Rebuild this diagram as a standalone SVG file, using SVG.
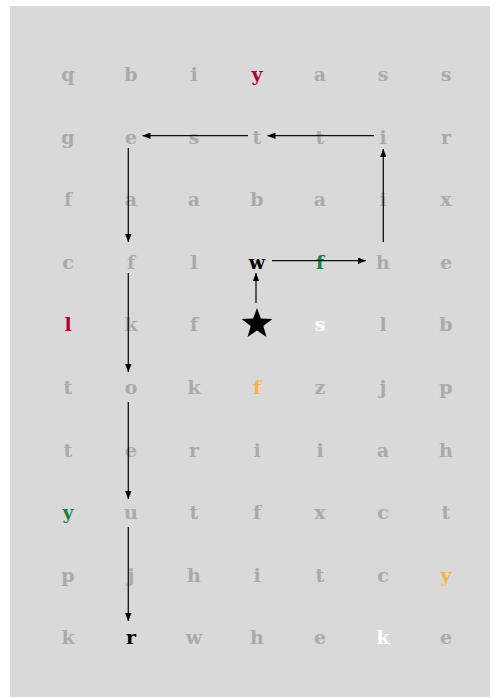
<svg xmlns="http://www.w3.org/2000/svg" width="498" height="698" viewBox="0 0 498 698">
<style>
text{font-family:"DejaVu Serif","Liberation Serif",serif;font-weight:bold;font-size:19px;text-anchor:middle}
.g{fill:#aaaaaa}.r{fill:#b0002e}.gr{fill:#17803a}.o{fill:#f7b24a}.w{fill:#ffffff}.k{fill:#000000}
.c line{stroke:#111;stroke-width:1.3;marker-end:url(#ah)}
</style>
<defs>
<marker id="ah" viewBox="0 0 10 8" refX="10" refY="4" markerWidth="8" markerHeight="6.4" markerUnits="userSpaceOnUse" orient="auto">
<path d="M0,0L10,4L0,8z" fill="#000"/>
</marker>
</defs>
<rect x="10" y="6" width="480" height="691" fill="#d9d9d9"/>
<g id="row0">
<text class="g" x="68" y="81">q</text><text class="g" x="131" y="81">b</text><text class="g" x="194" y="81">i</text><text class="r" x="257" y="81">y</text><text class="g" x="320" y="81">a</text><text class="g" x="383" y="81">s</text><text class="g" x="446" y="81">s</text>
</g>
<g id="row1">
<text class="g" x="68" y="143.6">g</text><text class="g" x="131" y="143.6">e</text><text class="g" x="194" y="143.6">s</text><text class="g" x="257" y="143.6">t</text><text class="g" x="320" y="143.6">t</text><text class="g" x="383" y="143.6">i</text><text class="g" x="446" y="143.6">r</text>
</g>
<g id="row2">
<text class="g" x="68" y="206.2">f</text><text class="g" x="131" y="206.2">a</text><text class="g" x="194" y="206.2">a</text><text class="g" x="257" y="206.2">b</text><text class="g" x="320" y="206.2">a</text><text class="g" x="383" y="206.2">i</text><text class="g" x="446" y="206.2">x</text>
</g>
<g id="row3">
<text class="g" x="68" y="268.8">c</text><text class="g" x="131" y="268.8">f</text><text class="g" x="194" y="268.8">l</text><text class="k" x="257" y="268.8">w</text><text class="gr" x="320" y="268.8">f</text><text class="g" x="383" y="268.8">h</text><text class="g" x="446" y="268.8">e</text>
</g>
<g id="row4">
<text class="r" x="68" y="331.4">l</text><text class="g" x="131" y="331.4">k</text><text class="g" x="194" y="331.4">f</text><text class="w" x="320" y="331.4">s</text><text class="g" x="383" y="331.4">l</text><text class="g" x="446" y="331.4">b</text>
</g>
<g id="star">
<path d="M257,308 L260.9,318.6 L272.4,319 L263.3,326 L266.5,337 L257,330.6 L247.5,337 L250.7,326 L241.6,319 L253.1,318.6 Z" fill="#000"/>
</g>
<g id="row5">
<text class="g" x="68" y="394">t</text><text class="g" x="131" y="394">o</text><text class="g" x="194" y="394">k</text><text class="o" x="257" y="394">f</text><text class="g" x="320" y="394">z</text><text class="g" x="383" y="394">j</text><text class="g" x="446" y="394">p</text>
</g>
<g id="row6">
<text class="g" x="68" y="456.6">t</text><text class="g" x="131" y="456.6">e</text><text class="g" x="194" y="456.6">r</text><text class="g" x="257" y="456.6">i</text><text class="g" x="320" y="456.6">i</text><text class="g" x="383" y="456.6">a</text><text class="g" x="446" y="456.6">h</text>
</g>
<g id="row7">
<text class="gr" x="68" y="519.2">y</text><text class="g" x="131" y="519.2">u</text><text class="g" x="194" y="519.2">t</text><text class="g" x="257" y="519.2">f</text><text class="g" x="320" y="519.2">x</text><text class="g" x="383" y="519.2">c</text><text class="g" x="446" y="519.2">t</text>
</g>
<g id="row8">
<text class="g" x="68" y="581.8">p</text><text class="g" x="131" y="581.8">j</text><text class="g" x="194" y="581.8">h</text><text class="g" x="257" y="581.8">i</text><text class="g" x="320" y="581.8">t</text><text class="g" x="383" y="581.8">c</text><text class="o" x="446" y="581.8">y</text>
</g>
<g id="row9">
<text class="g" x="68" y="644.4">k</text><text class="k" x="131" y="644.4">r</text><text class="g" x="194" y="644.4">w</text><text class="g" x="257" y="644.4">h</text><text class="g" x="320" y="644.4">e</text><text class="w" x="383" y="644.4">k</text><text class="g" x="446" y="644.4">e</text>
</g>
<g id="connectors" class="c">
<line x1="256" y1="303" x2="256" y2="273"/>
<line x1="272" y1="260.7" x2="366" y2="260.7"/>
<line x1="383.3" y1="242" x2="383.3" y2="149"/>
<line x1="374" y1="135.7" x2="267.5" y2="135.7"/>
<line x1="248" y1="135.7" x2="142.5" y2="135.7"/>
<line x1="128.3" y1="148" x2="128.3" y2="242"/>
<line x1="128.3" y1="273" x2="128.3" y2="372"/>
<line x1="128.3" y1="402" x2="128.3" y2="499"/>
<line x1="128.3" y1="527" x2="128.3" y2="621"/>
</g>
</svg>
